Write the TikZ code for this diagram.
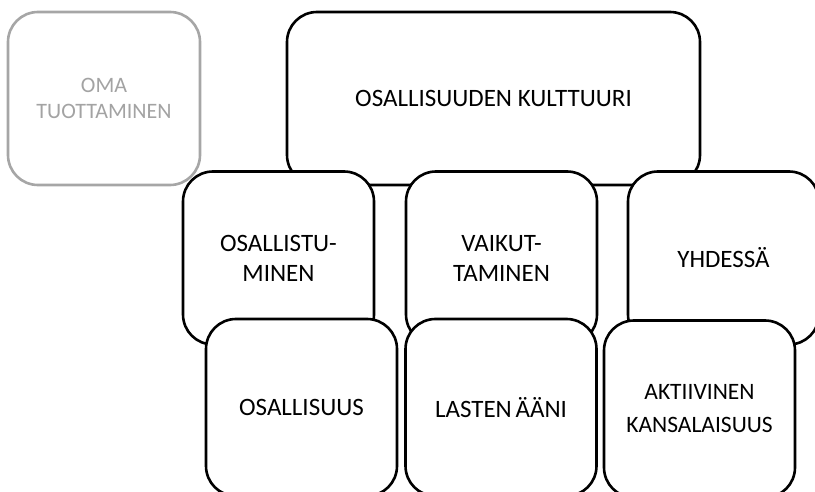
\documentclass[tikz,border=0pt]{standalone}
\usepackage{fontspec}
\setmainfont{Carlito}
\definecolor{mutedline}{HTML}{A6A6A6}
\definecolor{mutedtext}{HTML}{A3A3A3}
\begin{document}
\begin{tikzpicture}[x=1pt,y=-1pt,
  card/.style={draw=black, fill=white, line width=2.6pt, rounded corners=30pt,
    inner sep=0pt, outer sep=0pt, align=center, font=\fontsize{25}{30}\selectfont},
  muted/.style={card, draw=mutedline, text=mutedtext, font=\fontsize{22}{26}\selectfont},
  small/.style={minimum width=191pt},
  toprow/.style={minimum height=173pt},
  midrow/.style={small, minimum height=173pt},
  lowrow/.style={small, minimum height=177pt}]
\useasboundingbox (0,0) rectangle (815,492);

% separate item on the left
\node[muted, minimum width=192pt, toprow] (oma) at (104,98.5) {OMA\\TUOTTAMINEN};

% main heading
\node[card, minimum width=413pt, toprow] (kulttuuri) at (493.5,98.5) {OSALLISUUDEN KULTTUURI};

% middle row
\node[card, midrow] (osallistuminen) at (278.5,258) {OSALLISTU-\\MINEN};
\node[card, midrow] (vaikuttaminen) at (501.5,258) {VAIKUT-\\TAMINEN};
\node[card, midrow] (yhdessa) at (723.5,258) {YHDESSÄ};

% bottom row, running past the lower edge
\node[card, lowrow] (osallisuus) at (301.5,407.5) {OSALLISUUS};
\node[card, lowrow] (lastenaani) at (501,407.5) {LASTEN\hspace{0.15em}ÄÄNI};
\node[card, lowrow, font=\fontsize{23.5}{33}\selectfont] (kansalaisuus) at (699.5,409) {AKTIIVINEN\\KANSALAISUUS};
\end{tikzpicture}
\end{document}
